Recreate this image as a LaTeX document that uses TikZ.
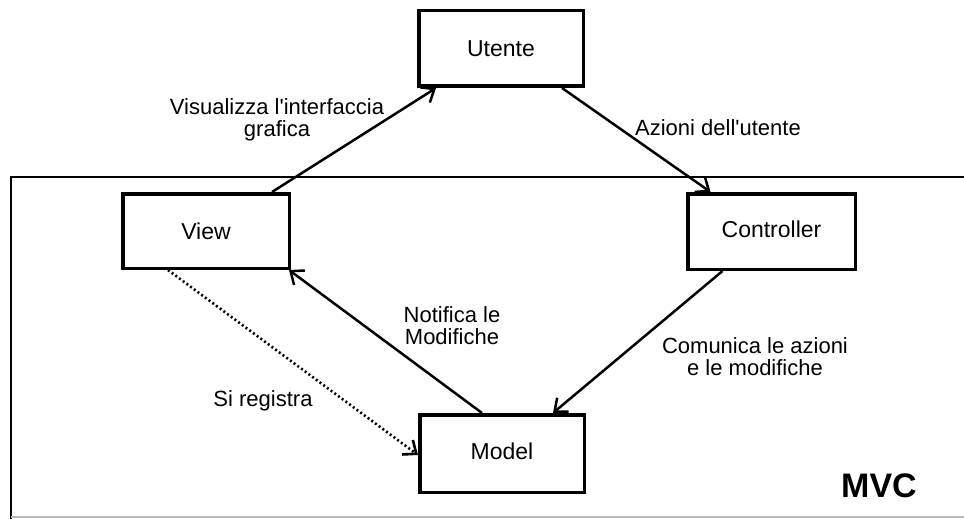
\documentclass[tikz,border=0pt]{standalone}
\usepackage{fontspec}
\setmainfont{Liberation Sans}
\usetikzlibrary{arrows.meta}
\begin{document}
\begin{tikzpicture}[x=1pt,y=-1pt,
  box/.style={draw,line width=3.5pt,inner sep=0pt,font=\fontsize{23}{23}\selectfont},
  lbl/.style={inner sep=0pt,font=\fontsize{22}{22}\selectfont},
  tip/.style={-{Straight Barb[length=11pt,width=18pt]}},
  flow/.style={line width=2.5pt,tip},
  reg/.style={line width=2.6pt,dash pattern=on 2pt off 2.6pt,tip}]
\useasboundingbox (0,0) rectangle (964,519);

% system frame
\coordinate (ftl) at (11,177);
\coordinate (ftr) at (964,177);
\coordinate (fbl) at (11,519);
\coordinate (fbr) at (964,517);
\draw[line width=2.2pt] (ftr) -- (ftl) -- (fbl);
\draw[line width=2pt,gray!55] (11,517) -- (fbr);

% components
\node[box,minimum width=164.5pt,minimum height=75.5pt] (utente) at (501,48.5) {Utente};
\node[box,minimum width=166.5pt,minimum height=74.5pt] (view) at (206,231) {View};
\node[box,minimum width=167.5pt,minimum height=75.5pt] (controller) at (771.5,231.5) {\raisebox{5pt}{Controller}};
\node[box,minimum width=164.5pt,minimum height=77.5pt] (model) at (502,453.5) {\raisebox{4pt}{Model}};

% interactions
\draw[flow] ([xshift=66pt]view.north) -- ([xshift=-65pt]utente.south);
\draw[flow] ([xshift=61pt]utente.south) -- ([xshift=-61pt]controller.north);
\draw[flow] ([xshift=-49pt]controller.south) -- ([xshift=51pt]model.north);
\draw[flow] ([xshift=-20pt]model.north) -- ([xshift=-2pt]view.south east);
\draw[reg] ([xshift=-38pt]view.south) -- ([yshift=-1.5pt]model.west);

% labels
\node[lbl,align=center] (lvis) at (277,120) {Visualizza l\textquotesingle interfaccia\\[0pt]grafica};
\node[lbl] (lazi) at (718,128) {Azioni dell\textquotesingle utente};
\node[lbl,align=center] (lnot) at (452,326) {Notifica le\\Modifiche};
\node[lbl,align=center] (lcom) at (755,357) {Comunica le azioni\\e le modifiche};
\node[lbl] (lreg) at (263,401) {Si registra};
\node[inner sep=0pt,font=\fontsize{34}{34}\bfseries\selectfont] (mvc) at (879,486) {MVC};
\end{tikzpicture}
\end{document}
